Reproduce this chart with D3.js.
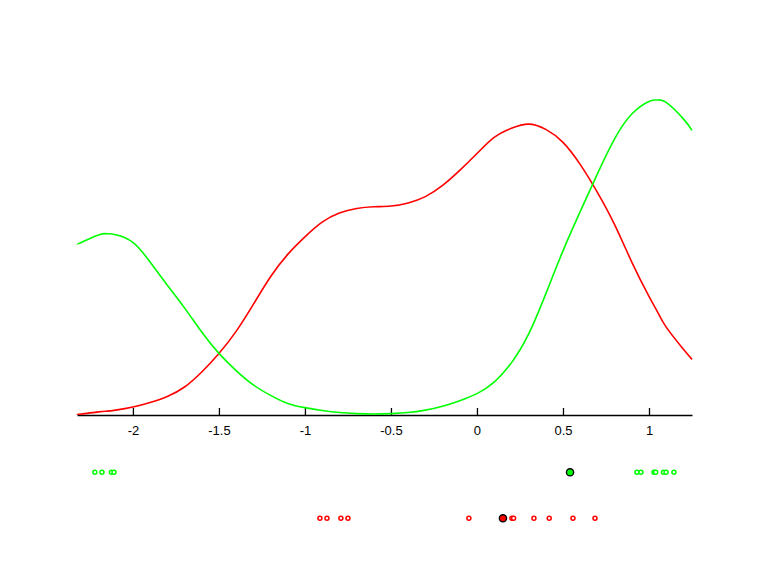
<!DOCTYPE html>
<meta charset="utf-8">
<script src="https://d3js.org/d3.v7.min.js"></script>
<style>
  body { margin: 0; background: #fff; }
</style>
<div id="my_dataviz"></div>
<script>

var xs = [-2.325, -2.3, -2.2, -2.15, -2.1, -2.0, -1.9, -1.8, -1.7, -1.6, -1.5, -1.4, -1.3, -1.2, -1.1,
  -1.0, -0.9, -0.8, -0.7, -0.6, -0.5, -0.4, -0.3, -0.2, -0.1, 0, 0.1, 0.2, 0.3, 0.4,
  0.5, 0.6, 0.7, 0.8, 0.9, 1.0, 1.05, 1.1, 1.2, 1.25];

// density curves (arbitrary units)
var greenDensity = [0.489, 0.493, 0.514, 0.518, 0.515, 0.493, 0.437, 0.371, 0.306, 0.237, 0.176, 0.127, 0.086, 0.056, 0.033,
  0.021, 0.013, 0.007, 0.004, 0.003, 0.004, 0.007, 0.014, 0.025, 0.041, 0.061, 0.094, 0.149, 0.231, 0.346,
  0.469, 0.581, 0.689, 0.789, 0.860, 0.896, 0.900, 0.893, 0.846, 0.813];
var redDensity = [0.003, 0.003, 0.009, 0.011, 0.014, 0.023, 0.036, 0.053, 0.080, 0.123, 0.176, 0.239, 0.316, 0.395, 0.459,
  0.509, 0.551, 0.577, 0.590, 0.595, 0.597, 0.606, 0.624, 0.656, 0.699, 0.747, 0.793, 0.819, 0.831, 0.816,
  0.779, 0.716, 0.636, 0.544, 0.437, 0.339, 0.294, 0.251, 0.188, 0.159];

// samples shown under the axis
var greenSamples = [-2.221, -2.180, -2.125, -2.110, 0.930, 0.953, 1.029, 1.039, 1.084, 1.099, 1.145];
var redSamples = [-0.913, -0.872, -0.791, -0.750, -0.047, 0.203, 0.213, 0.331, 0.420, 0.558, 0.686];
var greenMark = [0.541];
var redMark = [0.151];

var tickValues = [-2, -1.5, -1, -0.5, 0, 0.5, 1];

var width = 768, height = 576;

var svg = d3.select("#my_dataviz")
  .append("svg")
    .attr("width", width)
    .attr("height", height);

var x = d3.scaleLinear().domain([-2.325, 1.25]).range([77, 692]);
var y = d3.scaleLinear().domain([0, 1]).range([415, 65]);

// axis
var axis = svg.append("g")
  .attr("transform", "translate(0,415)")
  .call(d3.axisBottom(x)
    .tickValues(tickValues)
    .tickSizeInner(-7)
    .tickSizeOuter(0)
    .tickPadding(11)
    .tickFormat(function(d) { return String(d); }));
axis.select(".domain").attr("stroke", "black").attr("stroke-width", 1.3);
axis.selectAll(".tick line").attr("stroke", "black").attr("stroke-width", 1.3);
axis.selectAll(".tick text")
  .attr("font-family", "Liberation Sans, Arial, sans-serif")
  .attr("font-size", 13)
  .attr("fill", "black");

// curves
var line = d3.line()
  .x(function(d) { return x(d[0]); })
  .y(function(d) { return y(d[1]); })
  .curve(d3.curveNatural);

svg.append("path")
  .datum(xs.map(function(v, i) { return [v, redDensity[i]]; }))
  .attr("d", line)
  .attr("fill", "none")
  .attr("stroke", "#ff0000")
  .attr("stroke-width", 1.6);

svg.append("path")
  .datum(xs.map(function(v, i) { return [v, greenDensity[i]]; }))
  .attr("d", line)
  .attr("fill", "none")
  .attr("stroke", "#00ff00")
  .attr("stroke-width", 1.6);

// sample rows
function drawRow(samples, mark, color, cy) {
  svg.append("g").selectAll("circle")
    .data(samples)
    .enter().append("circle")
      .attr("cx", function(d) { return x(d); })
      .attr("cy", cy)
      .attr("r", 2)
      .attr("fill", "white")
      .attr("stroke", color)
      .attr("stroke-width", 1.5);
  svg.append("g").selectAll("circle")
    .data(mark)
    .enter().append("circle")
      .attr("cx", function(d) { return x(d); })
      .attr("cy", cy)
      .attr("r", 3.6)
      .attr("fill", color)
      .attr("stroke", "black")
      .attr("stroke-width", 1.4);
}

drawRow(greenSamples, greenMark, "#00ff00", 472.3);
drawRow(redSamples, redMark, "#ff0000", 518.3);

</script>
